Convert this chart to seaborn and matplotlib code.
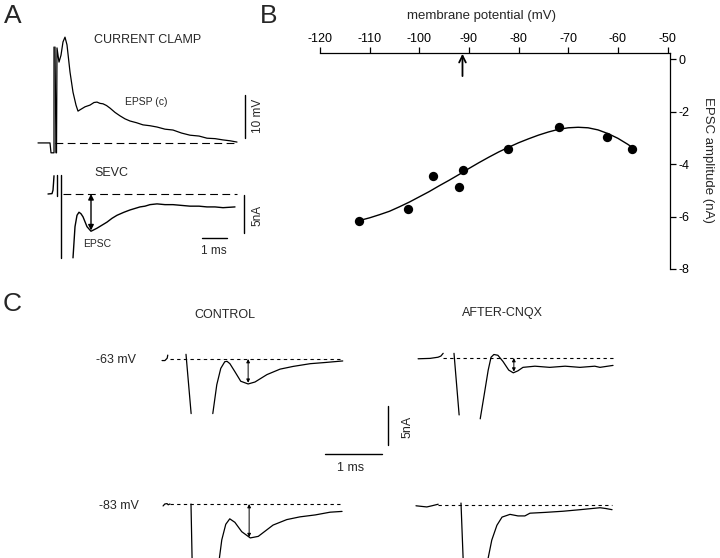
import pandas as pd
import matplotlib
matplotlib.use("Agg")
import matplotlib.pyplot as plt
import seaborn as sns

sns.set_style("white")
plt.rcParams["font.family"] = ["Liberation Sans", "DejaVu Sans"]
plt.rcParams["axes.unicode_minus"] = False

W, H = 720, 558

# ---- panel B: EPSC amplitude vs membrane potential
vm_points = [-112.1, -102.2, -97.2, -92.1, -91.1, -82.1, -71.9, -62.1, -57.2]
epsc_points = [-6.19, -5.70, -4.45, -4.88, -4.23, -3.42, -2.59, -2.98, -3.41]
fit_vm = [-112, -110, -108, -106, -104, -102, -100, -98, -96, -94, -92, -90, -88, -86,
          -84, -82, -80, -78, -76, -74, -72, -70, -68, -66, -64, -62, -60, -58, -57]
fit_epsc = [-6.15, -6.05, -5.93, -5.80, -5.63, -5.45, -5.25, -5.05, -4.83, -4.62, -4.40,
            -4.17, -3.95, -3.74, -3.54, -3.36, -3.19, -3.04, -2.90, -2.78, -2.68, -2.62,
            -2.60, -2.62, -2.70, -2.84, -3.02, -3.25, -3.38]
arrow_vm = -91.3

# ---- panel A: current clamp trace (ms, mV)
cc_pre_t = [-0.64, -0.16, -0.12, -0.04, 0.0, 0.0]
cc_pre_v = [-0.1, -0.1, -2.4, -2.4, -2.4, 22.2]
cc_t = [0.04, 0.08, 0.10, 0.12, 0.20, 0.28, 0.36, 0.44, 0.52, 0.64, 0.76, 0.88, 0.96, 1.04,
        1.24, 1.44, 1.60, 1.72, 1.84, 1.96, 2.10, 2.24, 2.44, 2.64, 2.84, 3.04, 3.30, 3.56,
        3.84, 4.12, 4.44, 4.76, 5.10, 5.44, 5.80, 6.12, 6.44, 6.76, 7.04, 7.32]
cc_v = [22.2, -2.4, -2.4, 22.0, 18.7, 20.3, 23.4, 24.5, 22.7, 16.4, 11.7, 8.7, 7.3, 7.6,
        8.3, 8.7, 9.3, 9.4, 9.1, 9.0, 8.6, 8.0, 7.0, 6.2, 5.5, 5.0, 4.6, 4.1,
        3.9, 3.6, 3.1, 2.9, 2.2, 1.7, 1.5, 1.0, 0.9, 0.6, 0.4, 0.1]
cc_base = [0.04, 7.32]

# ---- panel A: SEVC trace (ms, nA)
sevc_pre_t = [-0.24, -0.08, -0.04, -0.02, 0.0]
sevc_pre_i = [0.0, 0.05, 0.5, 1.4, 2.4]
sevc_art1_t = [0.12, 0.12]
sevc_art1_i = [2.5, -0.3]
sevc_art2_t = [0.28, 0.28]
sevc_art2_i = [2.5, -8.4]
sevc_t = [0.76, 0.84, 0.92, 1.00, 1.08, 1.16, 1.32, 1.48, 1.72, 1.92, 2.12, 2.32, 2.52, 2.80,
          3.04, 3.24, 3.44, 3.64, 3.84, 4.12, 4.44, 4.76, 5.10, 5.44, 5.80, 6.12, 6.44, 6.76,
          7.00, 7.24]
sevc_i = [-8.4, -4.3, -2.8, -2.4, -2.6, -3.0, -4.3, -4.9, -4.5, -4.1, -3.7, -3.2, -2.8, -2.4,
          -2.1, -1.9, -1.7, -1.6, -1.4, -1.3, -1.4, -1.4, -1.5, -1.6, -1.6, -1.7, -1.7, -1.8,
          -1.75, -1.7]
sevc_base = [0.36, 7.32]
sevc_peak_t = 1.48
sevc_peak_i = -4.8

# ---- panel C traces (ms, nA)
c63_pre_t = [-0.42, -0.37, -0.33, -0.32]
c63_pre_i = [-0.2, -0.2, 0.1, 0.5]
c63_art_t = [0.0, 0.09]
c63_art_i = [0.6, -7.0]
c63_t = [0.47, 0.54, 0.61, 0.68, 0.72, 0.77, 0.86, 0.96, 1.09, 1.21, 1.42, 1.65, 1.88, 2.18,
         2.44, 2.75]
c63_i = [-7.0, -3.3, -1.2, -0.35, -0.3, -0.6, -1.65, -2.85, -3.2, -2.95, -2.0, -1.3, -0.95,
         -0.6, -0.45, -0.25]
c63_base = [-0.28, 2.75]
c63_peak = (1.09, -3.05)

x63_pre_t = [-0.63, -0.42, -0.28, -0.23, -0.19]
x63_pre_i = [-0.1, -0.05, 0.1, 0.25, 0.6]
x63_art_t = [0.0, 0.09]
x63_art_i = [0.6, -7.3]
x63_t = [0.46, 0.53, 0.60, 0.65, 0.70, 0.77, 0.86, 0.96, 1.04, 1.12, 1.21, 1.42, 1.68, 1.95,
         2.21, 2.47, 2.56, 2.79]
x63_i = [-7.8, -4.7, -1.55, 0.1, 0.45, 0.35, -0.45, -1.55, -1.9, -1.65, -1.2, -1.05, -1.2,
         -1.05, -1.2, -1.05, -1.2, -0.95]
x63_base = [-0.19, 2.79]
x63_peak = (1.05, -1.75)

c83_pre_t = [-0.49, -0.46, -0.42, -0.40, -0.37]
c83_pre_i = [-0.25, 0.0, 0.05, -0.1, 0.0]
c83_art_t = [0.0, 0.02]
c83_art_i = [0.0, -7.4]
c83_t = [0.49, 0.54, 0.61, 0.68, 0.77, 0.89, 1.04, 1.18, 1.44, 1.68, 1.91, 2.18, 2.44, 2.65]
c83_i = [-7.4, -4.6, -2.6, -1.9, -2.35, -3.55, -4.35, -4.15, -2.7, -2.0, -1.65, -1.4, -1.05,
         -0.95]
c83_base = [-0.37, 2.65]
c83_peak = (1.02, -4.25)

x83_pre_t = [-0.79, -0.60, -0.51, -0.40]
x83_pre_i = [-0.1, -0.25, -0.1, 0.1]
x83_art_t = [0.0, 0.04]
x83_art_i = [0.25, -7.4]
x83_t = [0.46, 0.54, 0.63, 0.72, 0.86, 1.00, 1.12, 1.21, 1.47, 1.79, 2.09, 2.44, 2.54, 2.65]
x83_i = [-7.4, -4.5, -2.6, -1.55, -1.2, -1.4, -1.4, -1.05, -0.95, -0.8, -0.6, -0.35, -0.45,
         -0.6]
x83_base = [-0.40, 2.65]

fig = plt.figure(figsize=(W / 100, H / 100), dpi=100)


def px_axes(box, origin, scale):
    # box in pixels (top-left origin); origin = pixel of data (0, 0); scale = px per data unit
    x0, y0, x1, y1 = box
    ax = fig.add_axes([x0 / W, 1 - y1 / H, (x1 - x0) / W, (y1 - y0) / H])
    ax.lims = ((x0 - origin[0]) / scale[0], (x1 - origin[0]) / scale[0],
               (origin[1] - y1) / scale[1], (origin[1] - y0) / scale[1])
    return ax


def finish(ax):
    ax.set_xlim(ax.lims[0], ax.lims[1])
    ax.set_ylim(ax.lims[2], ax.lims[3])
    ax.axis("off")


def draw_trace(ax, segments, lw=0.9):
    frames = [pd.DataFrame({"t": t, "y": y, "seg": k}) for k, (t, y) in enumerate(segments)]
    df = pd.concat(frames, ignore_index=True)
    sns.lineplot(data=df, x="t", y="y", units="seg", estimator=None, sort=False,
                 color="black", lw=lw, ax=ax, legend=False)


def baseline(ax, span, dashes, lw=0.8):
    ax.plot(span, [0, 0], color="black", lw=lw, dashes=dashes)


def double_arrow(ax, t, amp, lw=0.8, ms=6):
    ax.annotate("", xy=(t, 0), xytext=(t, amp),
                arrowprops=dict(arrowstyle="<|-|>", lw=lw, color="black",
                                mutation_scale=ms, shrinkA=0, shrinkB=0))


def ftext(x, y, s, **kw):
    kw.setdefault("ha", "center")
    kw.setdefault("va", "center")
    fig.text(x / W, 1 - y / H, s, **kw)


# ---------------- panel A
ax_cc = px_axes((25, 25, 275, 165), (54, 142.5), (25, 4.3))
draw_trace(ax_cc, [(cc_pre_t, cc_pre_v), (cc_t, cc_v)])
baseline(ax_cc, cc_base, (7, 4))
ax_cc.plot([7.64, 7.64], [1.0, 11.0], color="black", lw=1.0)
finish(ax_cc)

ax_sv = px_axes((25, 165, 275, 262), (54, 194), (25, 7.6))
draw_trace(ax_sv, [(sevc_pre_t, sevc_pre_i), (sevc_art1_t, sevc_art1_i),
                   (sevc_art2_t, sevc_art2_i), (sevc_t, sevc_i)], lw=1.0)
baseline(ax_sv, sevc_base, (7, 4))
double_arrow(ax_sv, sevc_peak_t, sevc_peak_i, lw=1.0, ms=8)
ax_sv.plot([7.6, 7.6], [-0.1, -5.1], color="black", lw=1.0)
ax_sv.plot([5.92, 6.92], [-5.8, -5.8], color="black", lw=1.0)
finish(ax_sv)

ftext(13, 16, "A", fontsize=19)
ftext(148, 40, "CURRENT CLAMP", fontsize=9)
ftext(146, 102, "EPSP (c)", fontsize=7.5)
ftext(258, 116, "10 mV", fontsize=8.5, rotation=90)
ftext(111, 173, "SEVC", fontsize=9)
ftext(97, 244, "EPSC", fontsize=7.5)
ftext(257, 215, "5nA", fontsize=8.5, rotation=90)
ftext(214, 251, "1 ms", fontsize=8.5)

# ---------------- panel B
ax_b = fig.add_axes([320 / W, 1 - 269 / H, 350 / W, 216 / H])
sns.lineplot(x=fit_vm, y=fit_epsc, color="black", lw=1.0, ax=ax_b, sort=False)
sns.scatterplot(x=vm_points, y=epsc_points, color="black", s=45, edgecolor="black",
                linewidth=0, ax=ax_b, zorder=3)
ax_b.set_xlim(-120, -49.5)
ax_b.set_ylim(-8, 0.23)
ax_b.set_xticks(range(-120, -49, 10))
ax_b.set_yticks(range(-8, 1, 2))
ax_b.xaxis.tick_top()
ax_b.yaxis.tick_right()
ax_b.tick_params(axis="both", direction="out", length=4, width=0.9, labelsize=9,
                 colors="black", pad=2)
for side in ["left", "bottom"]:
    ax_b.spines[side].set_visible(False)
for side in ["top", "right"]:
    ax_b.spines[side].set_color("black")
    ax_b.spines[side].set_linewidth(0.9)
ax_b.set_facecolor("none")
ax_b.annotate("", xy=(arrow_vm, 0.2), xytext=(arrow_vm, -0.65),
              arrowprops=dict(arrowstyle="->", lw=1.3, color="black",
                              mutation_scale=12, shrinkA=0, shrinkB=0),
              annotation_clip=False)
ftext(269, 16, "B", fontsize=19)
ftext(482, 16, "membrane potential (mV)", fontsize=9.5)
ftext(708, 160, "EPSC amplitude (nA)", fontsize=9.5, rotation=270)

# ---------------- panel C (7.8 px per nA, 57 px per ms)
c_scale = (57, 7.8)
ax_c1 = px_axes((150, 340, 350, 430), (186, 359), c_scale)
draw_trace(ax_c1, [(c63_pre_t, c63_pre_i), (c63_art_t, c63_art_i), (c63_t, c63_i)])
baseline(ax_c1, c63_base, (3, 3))
double_arrow(ax_c1, *c63_peak, lw=0.7, ms=5)
finish(ax_c1)

ax_c2 = px_axes((405, 340, 625, 430), (454, 358), c_scale)
draw_trace(ax_c2, [(x63_pre_t, x63_pre_i), (x63_art_t, x63_art_i), (x63_t, x63_i)])
baseline(ax_c2, x63_base, (3, 3))
double_arrow(ax_c2, *x63_peak, lw=0.7, ms=5)
finish(ax_c2)

ax_c3 = px_axes((150, 490, 350, 558), (191, 504), c_scale)
draw_trace(ax_c3, [(c83_pre_t, c83_pre_i), (c83_art_t, c83_art_i), (c83_t, c83_i)])
baseline(ax_c3, c83_base, (3, 3))
double_arrow(ax_c3, *c83_peak, lw=0.7, ms=5)
finish(ax_c3)

ax_c4 = px_axes((405, 490, 625, 558), (461, 505), c_scale)
draw_trace(ax_c4, [(x83_pre_t, x83_pre_i), (x83_art_t, x83_art_i), (x83_t, x83_i)])
baseline(ax_c4, x83_base, (3, 3))
finish(ax_c4)

# scale bars: 1 ms and 5 nA
ax_cs = px_axes((315, 395, 400, 465), (325, 454), c_scale)
ax_cs.plot([0, 1], [0, 0], color="black", lw=1.0)
ax_cs.plot([1.105, 1.105], [1.1, 6.1], color="black", lw=1.0)
finish(ax_cs)

ftext(12, 304, "C", fontsize=19)
ftext(225, 315, "CONTROL", fontsize=9)
ftext(502, 313, "AFTER-CNQX", fontsize=9)
ftext(116, 360, "-63 mV", fontsize=9)
ftext(119, 506, "-83 mV", fontsize=9)
ftext(408, 427, "5nA", fontsize=9, rotation=90)
ftext(351, 468, "1 ms", fontsize=9)

fig.savefig("out.png", dpi=100)
